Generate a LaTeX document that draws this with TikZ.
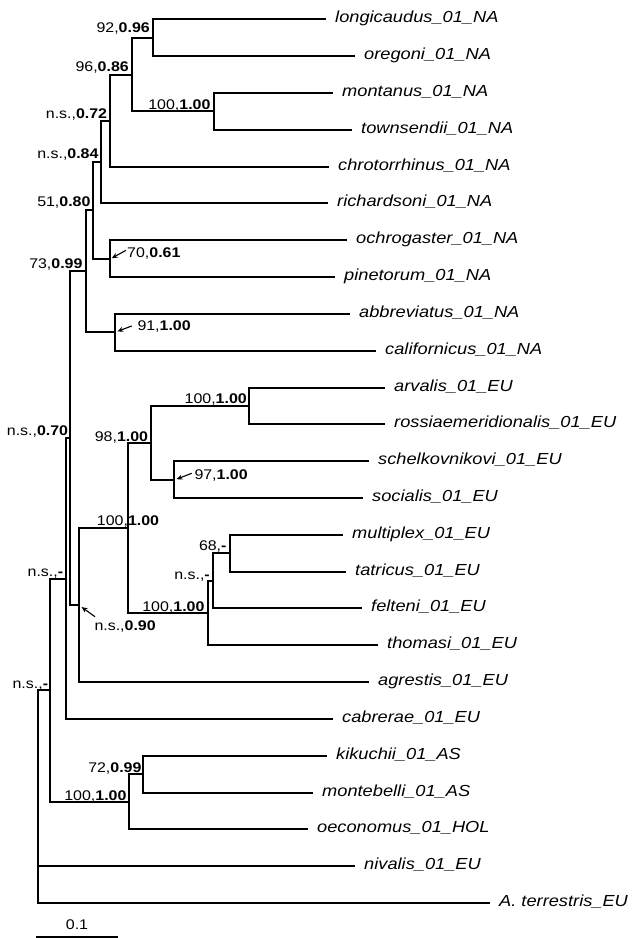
\documentclass[tikz,border=0pt]{standalone}
\usepackage{fontspec}
\setmainfont{Liberation Sans}
\usetikzlibrary{arrows.meta}
% horizontally widened text, as in the printed tree
\newcommand{\hs}[1]{\scalebox{1.14}[1]{#1}}
% bootstrap / posterior support pair
\newcommand{\supp}[2]{\hs{#1,\textbf{#2}}}

\begin{document}
\begin{tikzpicture}[x=1pt,y=-1pt,
  branch/.style={line width=1.6pt},
  taxon/.style={anchor=base west, inner sep=0pt, font=\fontsize{16}{18}\selectfont\itshape},
  support/.style={anchor=base east, inner sep=0pt, font=\fontsize{14}{16}\selectfont},
  supportw/.style={anchor=base west, inner sep=0pt, font=\fontsize{14}{16}\selectfont},
  pointer/.style={line width=1.1pt, -{Stealth[length=6pt,width=5pt]}}]

\useasboundingbox (0,0) rectangle (633,938);

% ---- tips: branch end x, row y, name
\foreach \i/\x/\y/\t in {
  0/326/19/longicaudus\_01\_NA,
  1/355/56/oregoni\_01\_NA,
  2/333/93/montanus\_01\_NA,
  3/352/130/townsendii\_01\_NA,
  4/329/167/chrotorrhinus\_01\_NA,
  5/328/203/richardsoni\_01\_NA,
  6/347/240/ochrogaster\_01\_NA,
  7/335/277/pinetorum\_01\_NA,
  8/350/314/abbreviatus\_01\_NA,
  9/376/351/californicus\_01\_NA,
  10/385/388/arvalis\_01\_EU,
  11/385/424/rossiaemeridionalis\_01\_EU,
  12/369/461/schelkovnikovi\_01\_EU,
  13/363/498/socialis\_01\_EU,
  14/343/535/multiplex\_01\_EU,
  15/346/572/tatricus\_01\_EU,
  16/362/608/felteni\_01\_EU,
  17/378/645/thomasi\_01\_EU,
  18/369/682/agrestis\_01\_EU,
  19/333/719/cabrerae\_01\_EU,
  20/327/756/kikuchii\_01\_AS,
  21/313/793/montebelli\_01\_AS,
  22/308/829/oeconomus\_01\_HOL,
  23/355/866/nivalis\_01\_EU,
  24/490/903/A. terrestris\_EU}
{
  \coordinate (t\i) at (\x,\y);
  \node[taxon] (n\i) at ([shift={(9pt,-3.5pt)}]t\i) {\hs{\t}};
}

% ---- internal nodes
\coordinate (L) at (153,38);
\coordinate (M) at (214,111);
\coordinate (K) at (132,75);
\coordinate (J) at (110,121);
\coordinate (H) at (101,162);
\coordinate (I) at (110,259);
\coordinate (F) at (93,210);
\coordinate (G) at (115,332);
\coordinate (D) at (86,271);
\coordinate (Q) at (249,406);
\coordinate (R) at (174,480);
\coordinate (O) at (151,443);
\coordinate (T) at (230,553);
\coordinate (S) at (213,581);
\coordinate (P) at (208,613);
\coordinate (N) at (128,528);
\coordinate (E) at (79,605);
\coordinate (C) at (70,438);
\coordinate (B) at (66,579);
\coordinate (U) at (143,774);
\coordinate (V) at (129,802);
\coordinate (A) at (50,690);
\coordinate (root) at (38,796);

% ---- branches (parent / child)
\foreach \p/\c in {K/L, K/M, L/t0, L/t1, M/t2, M/t3, J/K, J/t4, H/J, H/t5,
  F/H, F/I, I/t6, I/t7, D/F, D/G, G/t8, G/t9, C/D, C/E, E/N, E/t18,
  N/O, N/P, O/Q, O/R, Q/t10, Q/t11, R/t12, R/t13, P/S, P/t17, S/T, S/t16,
  T/t14, T/t15, B/C, B/t19, A/B, A/V, V/U, V/t22, U/t20, U/t21,
  root/A, root/t23, root/t24}
  \draw[branch] (\p) |- (\c);

% ---- support values
\node[support] (sL) at (150,32.7) {\supp{92}{0.96}};
\node[support] (sK) at (129,71) {\supp{96}{0.86}};
\node[support] (sM) at (210.7,109) {\supp{100}{1.00}};
\node[support] (sJ) at (107.3,118.3) {\supp{n.s.}{0.72}};
\node[support] (sH) at (98.7,158.3) {\supp{n.s.}{0.84}};
\node[support] (sF) at (90.7,206.7) {\supp{51}{0.80}};
\node[support] (sD) at (82.7,268.3) {\supp{73}{0.99}};
\node[support] (sC) at (68.3,435) {\supp{n.s.}{0.70}};
\node[support] (sN) at (159.3,525) {\supp{100}{1.00}};
\node[support] (sO) at (148.3,441.2) {\supp{98}{1.00}};
\node[support] (sQ) at (247,403.3) {\supp{100}{1.00}};
\node[support] (sP) at (204.7,611) {\supp{100}{1.00}};
\node[support] (sS) at (210,579.3) {\supp{n.s.}{-}};
\node[support] (sT) at (226.7,550.7) {\supp{68}{-}};
\node[support] (sB) at (63.3,576.7) {\supp{n.s.}{-}};
\node[support] (sA) at (48.3,688.3) {\supp{n.s.}{-}};
\node[support] (sV) at (126.7,800) {\supp{100}{1.00}};
\node[support] (sU) at (141.7,772.7) {\supp{72}{0.99}};

% ---- support values set beside their node, with a pointer
\node[supportw] (sI) at (127,257.3) {\supp{70}{0.61}};
\node[supportw] (sG) at (137.3,330) {\supp{91}{1.00}};
\node[supportw] (sR) at (194.3,479.3) {\supp{97}{1.00}};
\node[supportw] (sE) at (94.3,630.7) {\supp{n.s.}{0.90}};
\draw[pointer] ([shift={(-1pt,7pt)}]sI.base west) -- ([shift={(1.7pt,0.8pt)}]I);
\draw[pointer] ([shift={(-5.6pt,4pt)}]sG.base west) -- ([shift={(2.3pt,0.6pt)}]G);
\draw[pointer] ([shift={(-2.6pt,6pt)}]sR.base west) -- ([shift={(2.5pt,0.8pt)}]R);
\draw[pointer] ([shift={(0.7pt,14pt)}]sE.base west) -- ([shift={(2.5pt,-2pt)}]E);

% ---- scale bar
\coordinate (sb0) at (36,937);
\coordinate (sb1) at (118,937);
\draw[branch] (sb0) -- (sb1);
\node[anchor=base, inner sep=0pt, font=\fontsize{14}{16}\selectfont] (sbl) at (77,929) {\hs{0.1}};
\end{tikzpicture}
\end{document}
